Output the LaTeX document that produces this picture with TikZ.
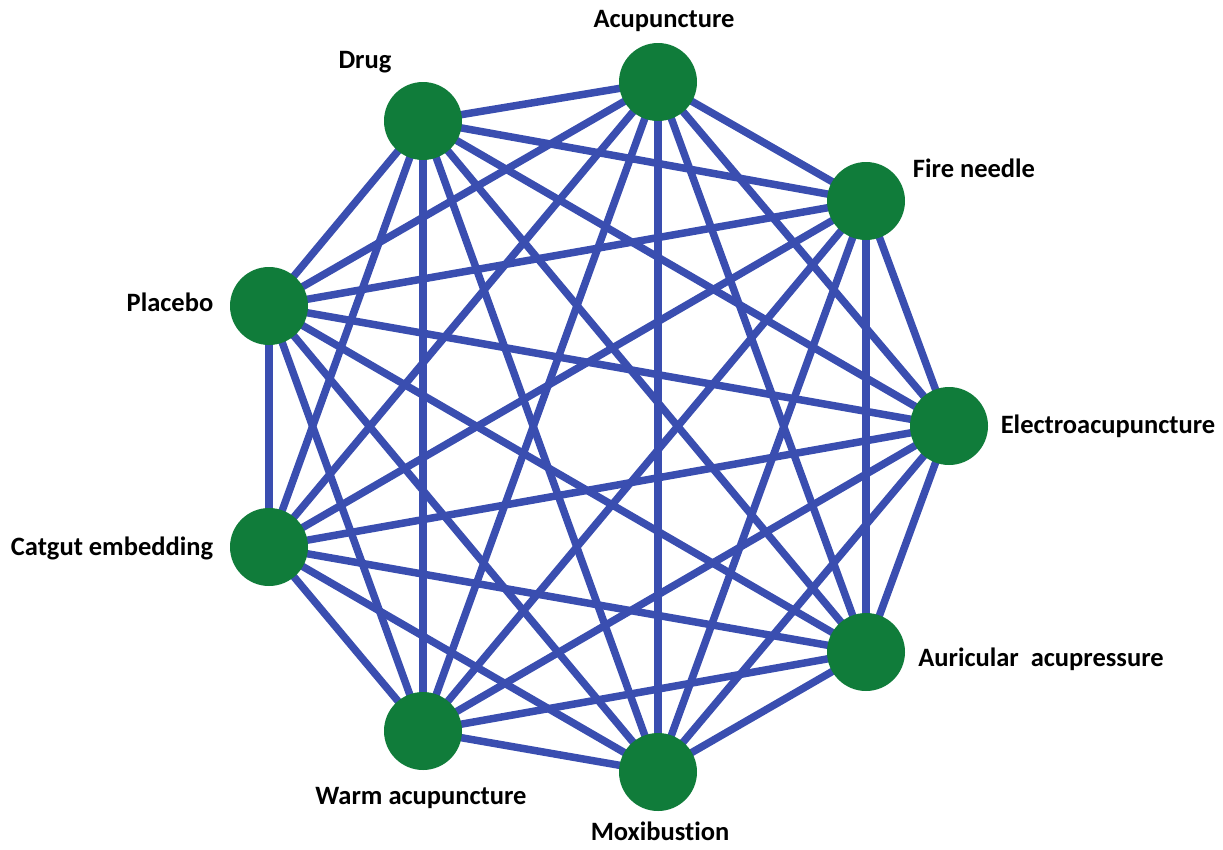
\documentclass[tikz,border=0pt]{standalone}
\usepackage{fontspec}
\setmainfont[Ligatures={NoCommon,NoRare}]{Carlito}
\definecolor{edgeblue}{RGB}{58,78,176}
\definecolor{nodegreen}{RGB}{16,124,58}
\begin{document}
\begin{tikzpicture}[x=1pt,y=-1pt,
  tnode/.style={circle,fill=nodegreen,minimum size=78pt,inner sep=0pt},
  edge/.style={draw=edgeblue,line width=7.5pt},
  lbl/.style={font=\fontsize{26.5}{30}\selectfont\bfseries,text=black,inner sep=0pt}]
\useasboundingbox (0,0) rectangle (1223,849);
\coordinate (acu) at (658,82);
\coordinate (drug) at (423,121);
\coordinate (fire) at (866,201);
\coordinate (plac) at (269,306);
\coordinate (elec) at (949,426);
\coordinate (cat) at (269,547);
\coordinate (aur) at (866,652);
\coordinate (warm) at (423,731);
\coordinate (moxi) at (658,772);
\foreach \a/\b in {acu/drug,acu/fire,acu/plac,acu/elec,acu/cat,acu/aur,acu/warm,acu/moxi,
  drug/fire,drug/plac,drug/elec,drug/cat,drug/aur,drug/warm,drug/moxi,
  fire/plac,fire/elec,fire/cat,fire/aur,fire/warm,fire/moxi,
  plac/elec,plac/cat,plac/aur,plac/warm,plac/moxi,
  elec/cat,elec/aur,elec/warm,elec/moxi,
  cat/aur,cat/warm,cat/moxi,
  aur/warm,aur/moxi,
  warm/moxi}
  \draw[edge] (\a) -- (\b);
\foreach \n in {acu,drug,fire,plac,elec,cat,aur,warm,moxi}
  \node[tnode] (n\n) at (\n) {};
\node[lbl] (lacu) at (664,21) {Acupuncture};
\node[lbl] (ldrug) at (365,62) {Drug};
\node[lbl] (lfire) at (974,168) {Fire needle};
\node[lbl] (lplac) at (170,302) {Placebo};
\node[lbl] (lelec) at (1108,426) {Electroacupuncture};
\node[lbl] (lcat) at (112,548) {Catgut embedding};
\node[lbl] (laur) at (1041,659) {Auricular\ \ acupressure};
\node[lbl] (lwarm) at (421,798) {Warm acupuncture};
\node[lbl] (lmoxi) at (660,831) {Moxibustion};
\end{tikzpicture}
\end{document}
